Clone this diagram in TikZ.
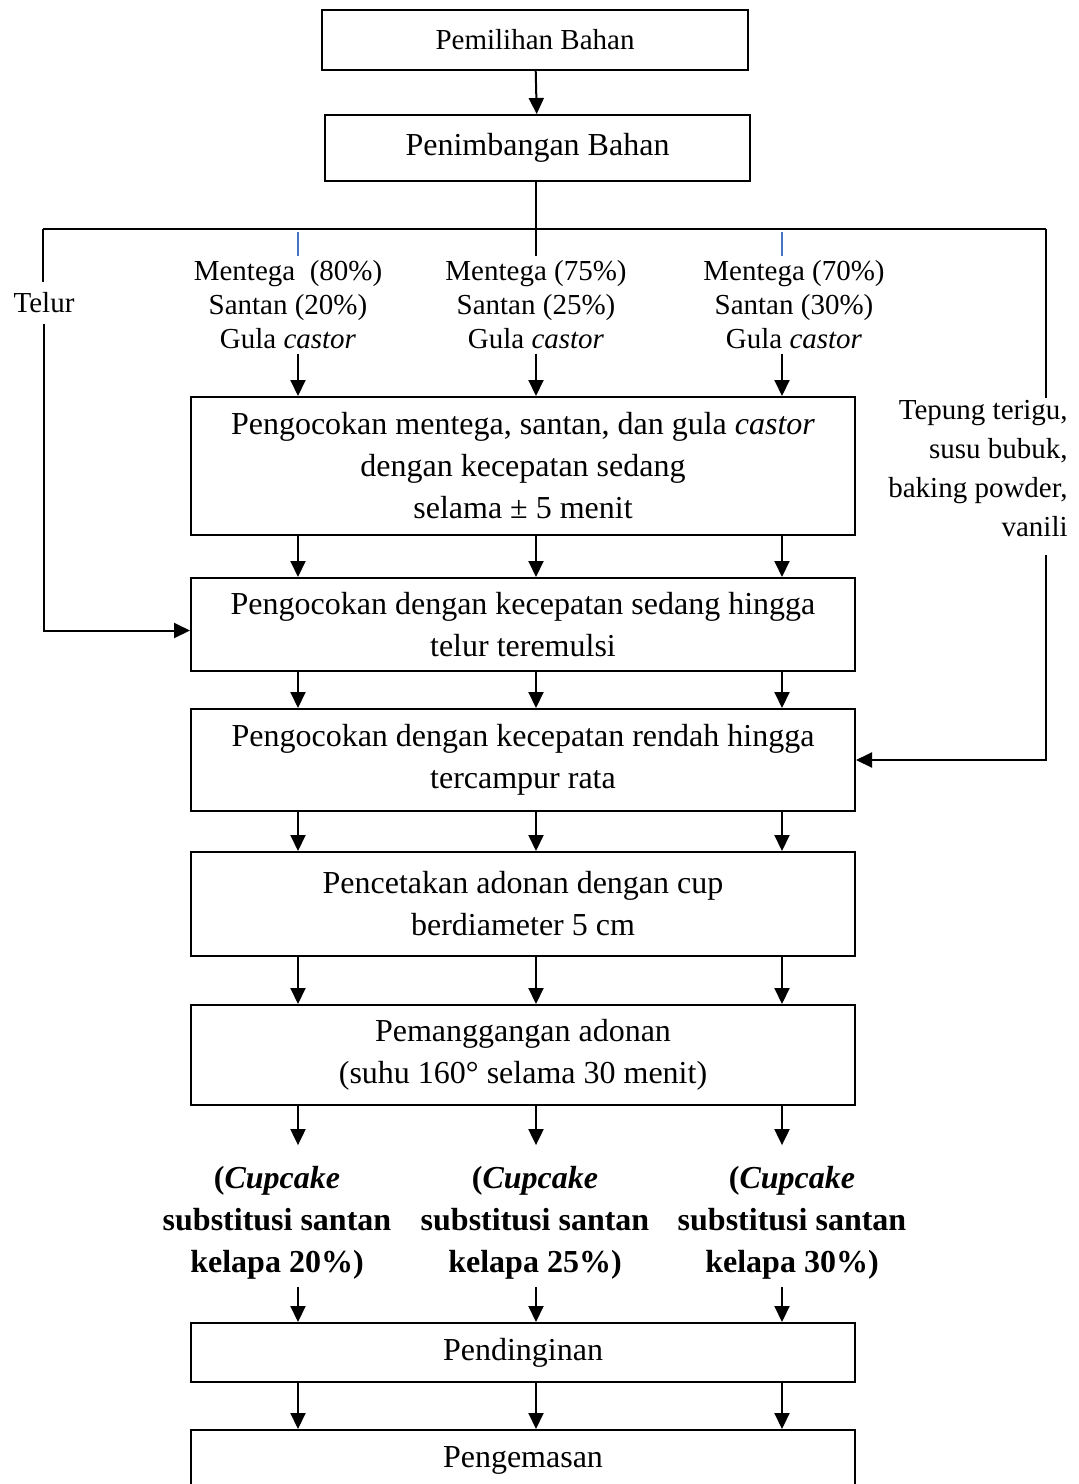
\documentclass[tikz,border=0pt]{standalone}
\usepackage{fontspec}
\setmainfont{Liberation Serif}
\usepackage{xcolor}
\usetikzlibrary{arrows.meta}
\definecolor{tickblue}{RGB}{68,114,196}

\begin{document}
\begin{tikzpicture}[
    x=0.5pt, y=-0.5pt,
    every node/.style={align=center},
    box/.style={draw=black, line width=1pt, minimum width=332pt, inner sep=0pt, font=\fontsize{16}{21}\selectfont},
    topbox/.style={draw=black, line width=1pt, inner sep=0pt},
    bahan/.style={inner xsep=0pt, inner ysep=2pt, font=\fontsize{14.5}{17}\selectfont},
    hasil/.style={inner xsep=0pt, inner ysep=3.5pt, font=\fontsize{16}{21}\selectfont\bfseries},
    line/.style={line width=1pt},
    arrow/.style={-{Triangle[length=8pt, width=7.5pt]}, line width=1pt},
    tick/.style={draw=tickblue, line width=0.6pt}
]
\useasboundingbox (0,0) rectangle (1078,1484);

% Nodes
\node[topbox, minimum width=213pt, minimum height=30pt, font=\fontsize{14.5}{17}\selectfont] (pilih) at (535,40) {Pemilihan Bahan};
\node[topbox, minimum width=212.5pt, minimum height=33pt, font=\fontsize{16}{21}\selectfont] (timbang) at (537.5,148) {Penimbangan Bahan};

\node[bahan] (m80) at (288,305) {Mentega\ \ (80\%)\\Santan (20\%)\\Gula \textit{castor}};
\node[bahan] (m75) at (536,305) {Mentega (75\%)\\Santan (25\%)\\Gula \textit{castor}};
\node[bahan] (m70) at (794,305) {Mentega (70\%)\\Santan (30\%)\\Gula \textit{castor}};
\node[bahan, inner ysep=5pt] (telur) at (44,303) {Telur};
\node[bahan, align=right, anchor=north east, inner ysep=1pt, font=\fontsize{14.5}{19.5}\selectfont] (tepung) at (1068,398) {Tepung terigu,\\susu bubuk,\\baking powder,\\vanili};

\node[box, minimum height=69pt] (kocok1) at (523,466) {Pengocokan mentega, santan, dan gula \textit{castor}\\dengan kecepatan sedang\\selama ± 5 menit};
\node[box, minimum height=46.5pt] (kocok2) at (523,624.5) {Pengocokan dengan kecepatan sedang hingga\\telur teremulsi};
\node[box, minimum height=51pt] (kocok3) at (523,760) {Pengocokan dengan kecepatan rendah hingga\\tercampur rata};
\node[box, minimum height=52pt] (cetak) at (523,904) {Pencetakan adonan dengan cup\\berdiameter 5 cm};
\node[box, minimum height=50pt] (panggang) at (523,1055) {Pemanggangan adonan\\(suhu 160° selama 30 menit)};

\node[hasil] (c20) at (277,1223) {(\textit{Cupcake}\\substitusi santan\\kelapa 20\%)};
\node[hasil] (c25) at (535,1223) {(\textit{Cupcake}\\substitusi santan\\kelapa 25\%)};
\node[hasil] (c30) at (792,1223) {(\textit{Cupcake}\\substitusi santan\\kelapa 30\%)};

\node[box, minimum height=29.5pt] (dingin) at (523,1352.5) {Pendinginan};
\node[box, minimum height=30pt] (kemas) at (523,1460) {Pengemasan};

\coordinate (kiri) at (43,229);
\coordinate (kanan) at (1046,229);
\coordinate (colA) at (298,0);
\coordinate (colB) at (536,0);
\coordinate (colC) at (782,0);

% Arrows
\draw[arrow] (pilih) -- (timbang);
\draw[line] (timbang.south -| colB) -- (m75.north -| colB);
\draw[line] (kiri) -- (kanan);
\draw[line] (kiri) -- (kiri |- telur.north);
\draw[arrow] (telur.south) |- ([yshift=-3pt]kocok2.west);
\draw[line] (kanan) -- (kanan |- tepung.north);
\draw[arrow] ([yshift=-8pt]tepung.south -| kanan) |- (kocok3.east);

\foreach \m/\c in {m80/colA, m70/colC}
  \draw[tick] ([yshift=-1.5pt]kiri -| \c) -- (\m.north -| \c);

\foreach \m/\c in {m80/colA, m75/colB, m70/colC}
  \draw[arrow] (\m.south -| \c) -- (kocok1.north -| \c);

\foreach \a/\b in {kocok1/kocok2, kocok2/kocok3, kocok3/cetak, cetak/panggang, dingin/kemas}
  \foreach \c in {colA, colB, colC}
    \draw[arrow] (\a.south -| \c) -- (\b.north -| \c);

\foreach \h/\c in {c20/colA, c25/colB, c30/colC} {
  \draw[arrow] (panggang.south -| \c) -- ([yshift=7pt]\h.north -| \c);
  \draw[arrow] (\h.south -| \c) -- (dingin.north -| \c);
}

\end{tikzpicture}
\end{document}
